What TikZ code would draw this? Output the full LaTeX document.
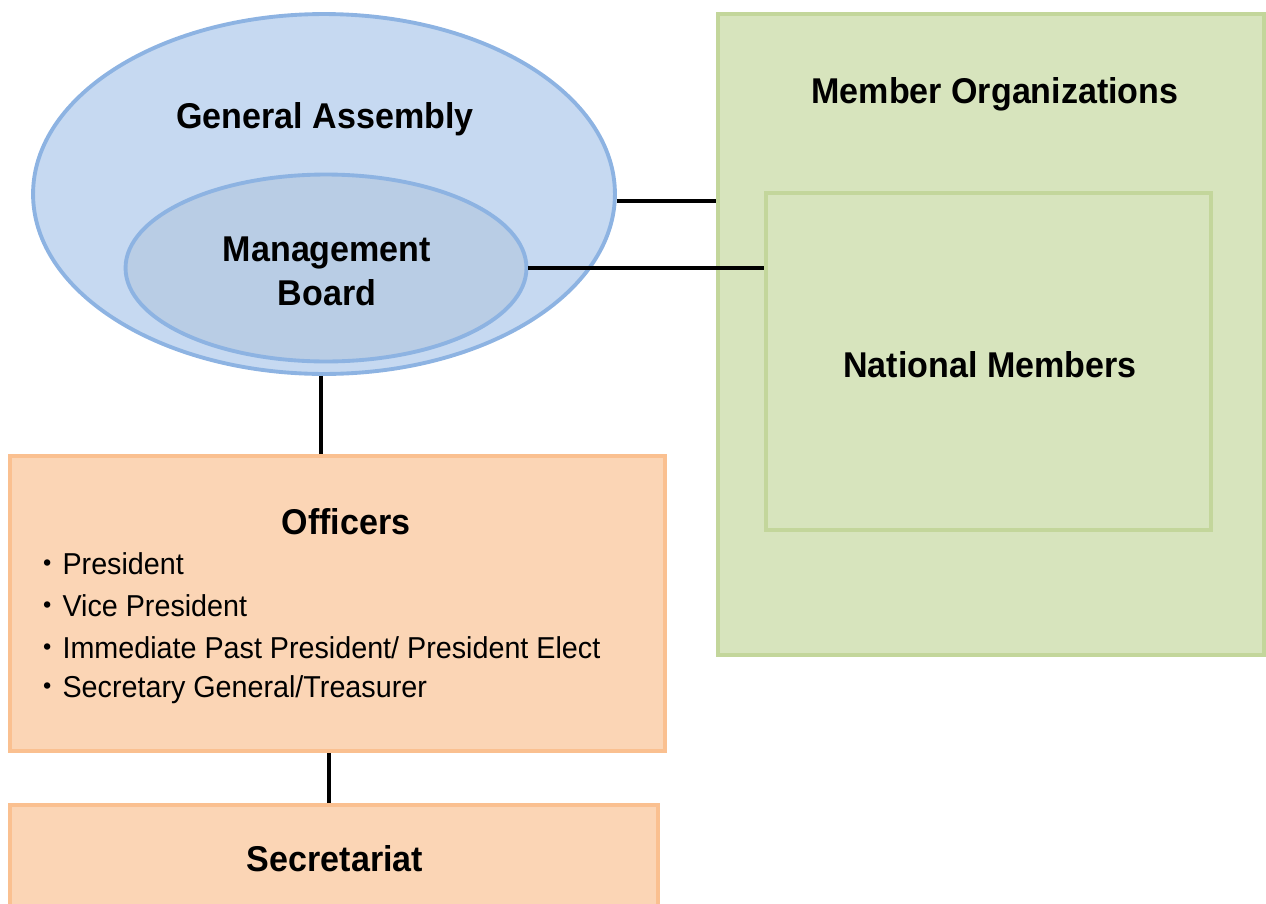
\documentclass[tikz,border=0pt]{standalone}
\usepackage{fontspec}
\setmainfont[FakeStretch=0.95]{Liberation Sans}
\newfontfamily\jpfont{Noto Sans CJK JP}
\usetikzlibrary{shapes.geometric}

\definecolor{gaFill}{HTML}{C6D9F1}
\definecolor{gaLine}{HTML}{8DB3E2}
\definecolor{mbFill}{HTML}{B9CDE5}
\definecolor{grFill}{HTML}{D7E4BD}
\definecolor{grLine}{HTML}{C3D69B}
\definecolor{orFill}{HTML}{FBD5B5}
\definecolor{orLine}{HTML}{FAC090}

\tikzset{
    title/.style={font=\fontsize{20.4}{25}\selectfont\bfseries, align=center, inner sep=0pt},
    item/.style={font=\fontsize{17.2}{22}\selectfont, anchor=west, inner sep=0pt},
    link/.style={line width=2pt, black},
    blob/.style={ellipse, draw=gaLine, line width=2.2pt, inner sep=0pt},
    box/.style={rectangle, line width=2.2pt, inner sep=0pt}
}

\begin{document}
\begin{tikzpicture}[x=0.02cm, y=-0.02cm]

\useasboundingbox (0,0) rectangle (1266,903);

	%%% right side
    \node[box, fill=grFill, draw=grLine, minimum width=10.92cm, minimum height=12.82cm] (mo) at (991,334.5) {};
    \node[box, fill=grFill, draw=grLine, minimum width=8.9cm, minimum height=6.74cm] (nm) at (988.5,361.5) {};
    \node[title] (moText) at (995,94) {Member Organizations};
    \node[title] (nmText) at (990,365) {National Members};

	%%% ellipses
    \node[blob, fill=gaFill, minimum width=11.64cm, minimum height=7.2cm] (ga) at (324,194) {};
    \node[blob, fill=mbFill, minimum width=8.02cm, minimum height=3.74cm] (mb) at (326,268) {};
    \node[title] (gaText) at (325,119) {General Assembly};
    \node[title] (mbText) at (327,271) {Management\\Board};

	%%% boxes below
    \node[box, fill=orFill, draw=orLine, minimum width=13.1cm, minimum height=5.9cm] (off) at (337.5,603.5) {};
    \node[box, fill=orFill, draw=orLine, minimum width=12.96cm, minimum height=2.8cm] (sec) at (334,875) {};
    \node[title] (offText) at (346,522) {Officers};
    \node[title] (secText) at (335,859) {Secretariat};

    \foreach \t [count=\i] in {President, Vice President, Immediate Past President/ President Elect, Secretary General/Treasurer}
        \node[item] (item\i) at (32,{522+41.8*\i}) {{\jpfont ・}\t};

	%%% connectors
    \draw[link] ([yshift=-0.14cm]ga.east) -- ([yshift=-0.14cm]ga.east -| mo.west);
    \draw[link] (mb.east) -- (mb.east -| nm.west);
    \draw[link] ([xshift=-0.06cm]ga.south) -- ([xshift=-0.06cm]ga.south |- off.north);
    \draw[link] ([xshift=-0.1cm]sec.north) -- ([xshift=-0.1cm]sec.north |- off.south);

\end{tikzpicture}
\end{document}
